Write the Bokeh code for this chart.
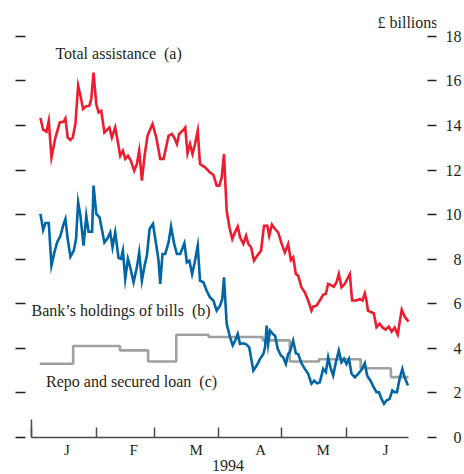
from bokeh.plotting import figure
from bokeh.models import Range1d, LinearAxis, FixedTicker, Label
from bokeh.embed import file_html
from bokeh.resources import INLINE

# x = days since 1 January 1994, values in £ billions
total_day = [4.3,5.6,7.2,8.3,9.6,11.5,13.6,15.5,16.3,17.4,
             18.7,19.8,21.1,22.4,23.5,24.8,26.2,27.8,28.7,29.8,
             31.1,32.2,33.5,35.0,37.4,38.6,40.2,41.5,42.6,43.9,
             45.0,46.3,47.7,49.3,50.6,51.7,53.0,54.3,55.7,58.1,
             59.9,61.8,63.4,65.8,67.4,68.5,69.8,70.9,72.9,73.8,
             74.9,76.1,77.3,78.5,79.8,80.9,83.3,85.7,87.3,88.9,
             90.2,91.3,92.4,93.7,95.0,96.4,97.7,99.0,100.1,101.7,
             103.0,104.1,105.4,106.8,108.4,110.2,111.6,113.2,114.1,115.4,
             116.9,118.4,120.1,121.6,123.2,124.5,125.6,126.9,128.0,129.6,
             131.2,132.8,134.4,135.2,136.8,138.4,140.0,141.3,142.4,143.5,
             145.1,146.4,147.5,148.8,150.4,152.8,153.9,156.0,157.6,158.9,
             160.0,160.8,161.5,163.2,164.3,165.6,167.1,168.6,170.0,171.5,
             172.9,174.3,175.8,177.7,179.1,181.0]
total_val = [14.34,13.81,13.72,14.21,12.57,13.46,14.14,14.18,14.32,13.46,
             13.35,13.46,14.07,15.79,15.34,14.74,14.86,14.89,15.19,16.38,
             14.96,14.59,14.66,13.69,13.91,13.46,13.91,13.24,12.64,12.87,
             12.50,12.64,12.42,11.97,12.27,12.87,11.52,12.64,13.54,14.07,
             13.46,12.50,12.50,13.54,13.62,13.46,13.17,13.62,13.80,13.91,
             12.75,13.17,12.72,13.17,13.77,12.27,12.12,11.89,11.79,11.30,
             11.30,11.67,12.72,10.17,9.43,8.90,9.20,9.46,8.98,8.68,
             9.05,8.68,8.53,7.93,8.16,8.38,9.50,9.50,9.05,9.55,
             9.35,9.20,8.68,8.30,8.68,7.96,8.08,7.33,7.26,6.73,
             6.51,6.14,5.69,5.87,5.91,6.14,6.40,6.44,6.89,6.84,
             6.76,6.96,7.33,6.73,6.89,7.33,6.14,6.14,6.21,6.14,
             6.46,6.14,5.69,5.61,5.57,4.94,5.10,4.92,4.83,4.97,
             4.74,4.92,4.61,5.73,5.42,5.19]

bills_day = [4.3,5.6,6.7,8.3,9.6,11.0,12.3,13.9,15.2,16.3,
             17.4,18.7,20.3,21.4,22.4,23.5,25.0,26.3,27.4,29.1,
             29.8,31.1,32.7,33.9,35.0,36.3,37.8,38.9,40.2,41.8,
             43.0,43.9,45.0,46.3,47.4,49.0,50.6,51.7,53.0,54.3,
             55.4,56.7,58.3,59.7,61.0,61.8,62.9,64.2,65.8,67.0,
             68.5,69.8,71.4,73.4,74.6,75.8,77.1,78.2,79.8,80.9,
             82.5,84.1,85.7,87.3,88.9,90.5,91.6,92.4,93.7,95.3,
             96.6,97.8,99.0,100.1,101.7,103.3,104.5,106.5,108.1,109.7,
             111.3,112.1,112.9,113.6,114.5,115.8,116.9,118.2,119.7,120.8,
             122.1,123.2,124.0,125.6,126.9,128.0,129.6,131.2,132.8,134.4,
             135.7,137.1,138.4,140.0,141.3,142.4,143.5,144.8,146.1,147.5,
             148.8,150.0,151.2,152.4,153.6,155.2,156.8,158.4,160.0,161.1,
             162.7,164.3,165.6,166.8,168.0,169.2,170.4,171.9,173.2,174.3,
             175.4,176.7,178.0,179.1,180.7]
bills_val = [10.03,9.31,9.62,9.62,7.71,8.30,8.75,9.05,9.50,9.80,
             8.90,8.11,8.38,8.90,10.55,9.95,8.60,9.95,9.23,9.23,
             11.30,10.03,9.87,9.28,8.75,8.90,9.20,8.53,9.20,8.05,
             8.01,8.38,7.11,8.01,7.63,6.96,7.63,8.30,7.03,7.71,
             8.16,9.35,9.58,8.75,7.93,6.89,8.23,8.23,8.75,9.46,
             8.68,8.23,8.23,8.71,7.85,7.93,7.33,7.78,8.60,7.03,
             6.96,6.58,6.28,6.14,5.69,5.91,6.21,7.18,5.09,4.49,
             4.12,4.34,4.64,4.19,4.22,4.16,4.04,2.99,3.22,3.52,
             3.74,4.04,5.01,4.19,4.79,4.64,4.56,3.97,3.67,3.59,
             3.29,3.74,3.82,4.34,3.77,3.74,3.32,3.07,2.85,2.40,
             2.54,2.42,2.47,3.07,2.92,3.59,3.14,2.77,3.37,3.89,
             3.37,3.52,3.29,3.52,2.85,2.69,2.85,3.03,3.32,2.77,
             2.54,2.24,2.02,2.02,1.72,1.50,1.65,1.72,2.10,2.02,
             2.02,2.62,3.07,2.69,2.32]

repo_day = [4, 20, 42.5, 56, 69.5, 85, 111, 124, 138, 158, 172.5, 181]
repo_val = [3.3, 4.1, 3.9, 3.4, 4.6, 4.5, 4.35, 3.4, 3.5, 3.1, 2.7, 2.7]

month_starts = [0, 31, 59, 90, 120, 151, 181]
month_label_day = [17, 49, 79, 110, 140, 170]
month_labels = ["J", "F", "M", "A", "M", "J"]
year_label = "1994"
value_ticks = [0, 2, 4, 6, 8, 10, 12, 14, 16, 18]
unit_label = "£ billions"
series_labels = ["Total assistance\u00a0 (a)", "Bank\u2019s holdings of bills\u00a0 (b)",
                 "Repo and secured loan\u00a0 (c)"]

FONT = "Liberation Serif"
TXT = "#231F20"
AX = "#4a4a4a"

p = figure(width=464, height=474, x_range=Range1d(-7.66, 194.4), y_range=Range1d(-1.674, 19.165),
           output_backend="svg", toolbar_location=None, y_axis_location="right",
           min_border_left=15, min_border_right=27, min_border_top=10, min_border_bottom=0)
p.outline_line_color = None
p.grid.visible = False
p.background_fill_color = "white"
p.border_fill_color = "white"

# bottom axis, drawn at value 0: month boundaries as ticks, letters inside the months
xa = p.xaxis[0]
xa.fixed_location = 0
xa.ticker = FixedTicker(ticks=month_label_day, minor_ticks=month_starts[:-1])
xa.major_label_overrides = {pos: lab for pos, lab in zip(month_label_day, month_labels)}
xa.bounds = (month_starts[0], month_starts[-1])
xa.major_tick_in = 0
xa.major_tick_out = 0
xa.minor_tick_in = 10
xa.minor_tick_out = 0
xa.minor_tick_line_color = AX
xa.minor_tick_line_width = 1.5
xa.axis_line_color = AX
xa.axis_line_width = 1.5
xa.major_label_standoff = 5
xa.major_label_text_font = FONT
xa.major_label_text_font_size = "15px"
xa.major_label_text_color = TXT

# right axis with labels
ya = p.yaxis[0]
ya.ticker = FixedTicker(ticks=value_ticks)
ya.major_label_overrides = {t: (("\u2007" + str(t)) if t < 10 else str(t)) for t in value_ticks}
ya.axis_line_color = None
ya.major_tick_in = 9
ya.major_tick_out = 0
ya.major_tick_line_color = TXT
ya.major_tick_line_width = 1.5
ya.major_label_standoff = 9
ya.major_label_text_font = FONT
ya.major_label_text_font_size = "16px"
ya.major_label_text_color = TXT

# left axis: ticks only
la = LinearAxis(ticker=FixedTicker(ticks=value_ticks), axis_line_color=None,
                major_tick_in=10, major_tick_out=0, major_tick_line_color=TXT,
                major_tick_line_width=1.5,
                major_label_overrides={t: "" for t in value_ticks},
                major_label_standoff=0)
p.add_layout(la, "left")

# taller tick at the start of the axis
p.segment(x0=[month_starts[0]], y0=[0], x1=[month_starts[0]], y1=[0.8],
          line_color=AX, line_width=1.5)

p.step(repo_day, repo_val, mode="after", line_color="#A0A0A0", line_width=2.6)
p.line(bills_day, bills_val, line_color="#0066A6", line_width=2.6, line_join="miter")
p.line(total_day, total_val, line_color="#ED1C2E", line_width=2.6, line_join="miter")

def lab(x, y, text, align="left"):
    p.add_layout(Label(x=x, y=y, text=text, text_font=FONT, text_font_size="16px",
                       text_color=TXT, text_align=align, text_baseline="middle"))

lab(11.5, 17.22, series_labels[0])
lab(0.0, 5.69, series_labels[1])
lab(7.0, 2.50, series_labels[2])
lab(194.9, 18.63, unit_label, "right")
lab(94.3, -1.25, year_label, "center")

open("out.html", "w").write(file_html(p, INLINE))
